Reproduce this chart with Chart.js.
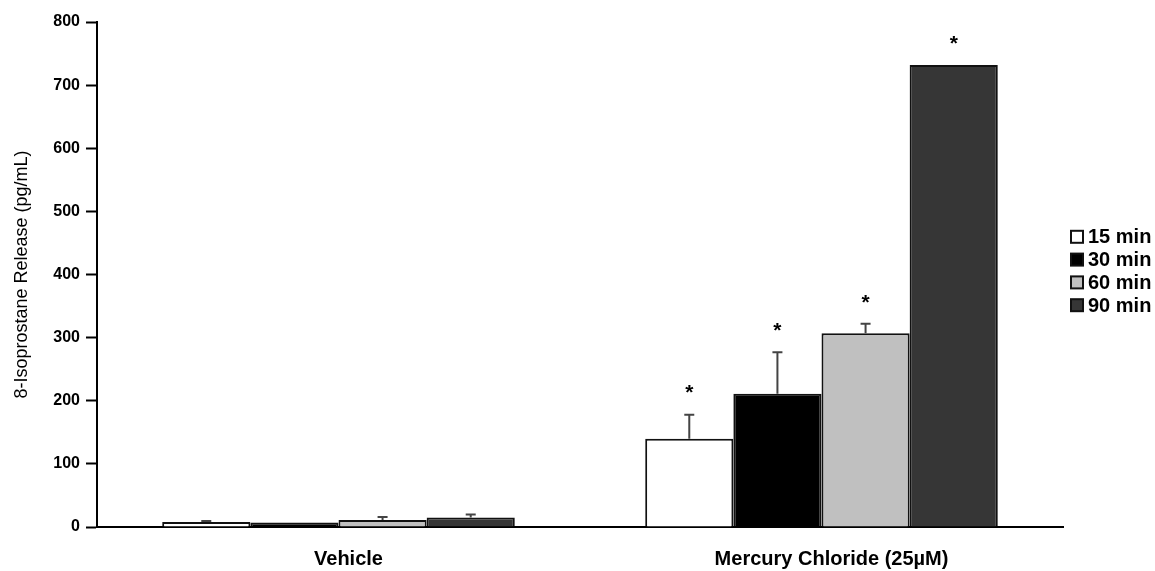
<!DOCTYPE html>
<html lang="en">
<head>
    <meta charset="UTF-8">
    <title>8-Isoprostane Release</title>
    <script src="https://cdn.jsdelivr.net/npm/chart.js@4.4.1/dist/chart.umd.min.js"></script>
    <style>
      html, body { margin: 0; padding: 0; background: #fff; }
      #wrap { width: 1155px; height: 571px; }
    </style>
</head>
<body>
<div id="wrap"><canvas id="myChart" width="1155" height="571"></canvas></div>

<script>
  // data
  var groups = ['Vehicle', 'Mercury Chloride (25\u00b5M)'];
  var timeLabels = ['15 min', '30 min', '60 min', '90 min'];
  var min15 = [8, 140];
  var min30 = [7, 211];
  var min60 = [11, 307];
  var min90 = [15, 732];
  // upper error (SEM) in same units
  var err15 = [1.5, 38];
  var err30 = [0, 66];
  var err60 = [5, 15];
  var err90 = [5, 0];
  // significance marks per group
  var stars = [[false, false, false, false], [true, true, true, true]];

  var fills = ['#ffffff', '#000000', '#c0c0c0', '#363636'];
  var values = [min15, min30, min60, min90];
  var errors = [err15, err30, err60, err90];
  var FONT = '"Liberation Sans", Arial, sans-serif';

  var datasets = timeLabels.map(function(lbl, i){
    return {
      label: lbl,
      data: values[i],
      err: errors[i],
      backgroundColor: fills[i],
      borderColor: '#111111',
      borderWidth: 2,
      borderSkipped: 'bottom',
      barPercentage: 1.0,
      categoryPercentage: 0.73
    };
  });

  // error bars + asterisks
  var errorBars = {
    id: 'errorBars',
    afterDatasetsDraw: function(chart){
      var ctx = chart.ctx;
      var y = chart.scales.y;
      chart.data.datasets.forEach(function(ds, di){
        var meta = chart.getDatasetMeta(di);
        meta.data.forEach(function(bar, i){
          var top = y.getPixelForValue(ds.data[i] + ds.err[i]);
          ctx.save();
          if (ds.err[i] > 0) {
            ctx.strokeStyle = '#444444';
            ctx.lineWidth = 2;
            ctx.beginPath();
            ctx.moveTo(bar.x, bar.y);
            ctx.lineTo(bar.x, top);
            ctx.moveTo(bar.x - 5, top);
            ctx.lineTo(bar.x + 5, top);
            ctx.stroke();
          }
          if (stars[i][di]) {
            ctx.fillStyle = '#000';
            ctx.font = 'bold 21px ' + FONT;
            ctx.textAlign = 'center';
            ctx.textBaseline = 'middle';
            ctx.fillText('*', bar.x, top - 21);
          }
          ctx.restore();
        });
      });
    }
  };

  // legend on the right, squares + bold labels
  var sideLegend = {
    id: 'sideLegend',
    afterDraw: function(chart){
      var ctx = chart.ctx;
      var area = chart.chartArea;
      var step = 22.8;
      var y0 = (area.top + area.bottom) / 2 - 3.5 - 1.5 * step;
      ctx.save();
      ctx.font = 'bold 20px ' + FONT;
      ctx.textBaseline = 'middle';
      ctx.textAlign = 'left';
      chart.data.datasets.forEach(function(ds, i){
        var cy = y0 + i * step;
        ctx.fillStyle = ds.backgroundColor;
        ctx.fillRect(1071, cy - 6, 12, 12);
        ctx.strokeStyle = '#111';
        ctx.lineWidth = 2;
        ctx.strokeRect(1071, cy - 6, 12, 12);
        ctx.fillStyle = '#000';
        ctx.fillText(ds.label, 1088, cy + 1);
      });
      ctx.restore();
    }
  };

  var ctx = document.getElementById('myChart').getContext('2d');
  var myChart = new Chart(ctx, {
    type: 'bar',
    data: {
      labels: groups,
      datasets: datasets
    },
    options: {
      responsive: false,
      animation: false,
      layout: { padding: { top: 22, right: 92, left: 0, bottom: 0 } },
      plugins: {
        legend: { display: false },
        tooltip: { enabled: false }
      },
      scales: {
        x: {
          grid: { display: false, drawTicks: false },
          border: { color: '#000', width: 2 },
          afterFit: function(scale){ scale.height = 44; },
          ticks: {
            padding: 20,
            labelOffset: 10,
            color: '#000',
            font: { family: FONT, size: 20, weight: 'bold' }
          }
        },
        y: {
          min: 0,
          max: 800,
          afterFit: function(scale){ scale.width = 97; },
          grid: { display: true, drawOnChartArea: false, drawTicks: true, tickLength: 11, tickWidth: 2, tickColor: '#000', color: '#000' },
          border: { color: '#000', width: 2 },
          ticks: {
            stepSize: 100,
            padding: 6,
            color: '#000',
            font: { family: FONT, size: 16, weight: 'bold' }
          },
          title: {
            display: true,
            text: '8-Isoprostane Release (pg/mL)',
            color: '#000',
            padding: { top: 11, bottom: 0 },
            font: { family: FONT, size: 18 }
          }
        }
      }
    },
    plugins: [errorBars, sideLegend]
  });
</script>
</body>
</html>
